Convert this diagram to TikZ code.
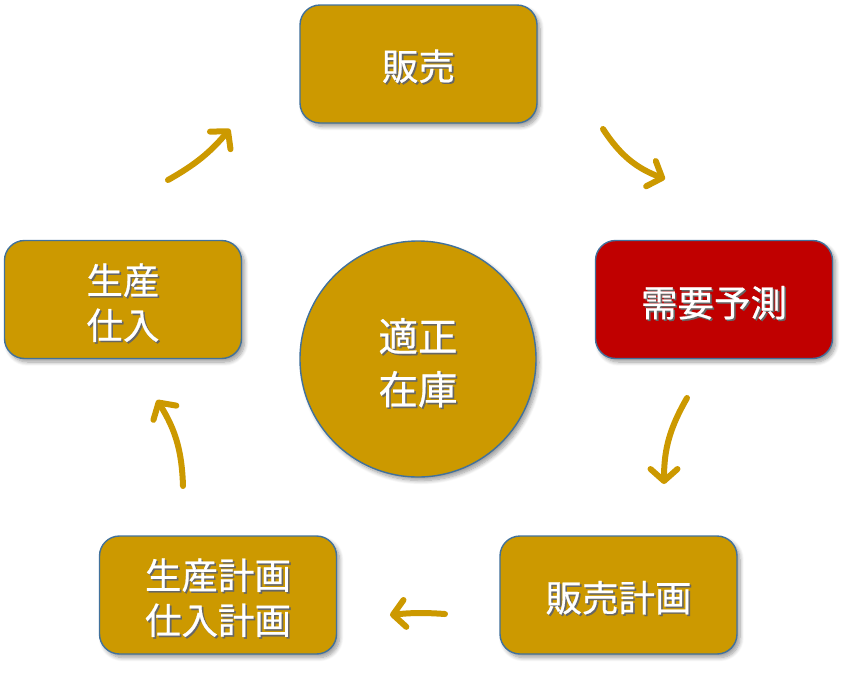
\documentclass[tikz,border=0pt]{standalone}
\usepackage{fontspec}
\setmainfont[FakeBold=0.6]{Noto Sans CJK JP}
\usetikzlibrary{arrows.meta,shadows.blur}
\definecolor{gold}{HTML}{CC9900}
\definecolor{redbox}{HTML}{C00000}
\definecolor{edgeblue}{HTML}{41719C}
\newcommand\sh[1]{\makebox[0pt][l]{\hspace{1.6pt}\raisebox{-1.6pt}{\color{black!60}#1}}#1}
\tikzset{
  x=1pt, y=-1pt,
  boxshape/.style={draw=edgeblue, line width=1.4pt, rounded corners=20pt, fill=gold,
    minimum width=237pt, minimum height=118pt, inner sep=0pt,
    blur shadow={shadow xshift=3pt, shadow yshift=-3.5pt, shadow blur radius=4pt, shadow blur steps=8, shadow opacity=40}},
  circshape/.style={circle, draw=edgeblue, line width=1.4pt, fill=gold, minimum size=236pt, inner sep=0pt,
    blur shadow={shadow xshift=3pt, shadow yshift=-3.5pt, shadow blur radius=4pt, shadow blur steps=8, shadow opacity=40}},
  lbl/.style={text=white, font=\fontsize{36.5}{45}\selectfont, align=center, inner sep=0pt},
  clbl/.style={text=white, font=\fontsize{39.5}{53}\selectfont, align=center, inner sep=0pt},
  cyc/.style={draw=gold, line width=6pt, line cap=round, -{Straight Barb[length=12pt,width=27pt,round]}},
}
\begin{document}
\begin{tikzpicture}
\useasboundingbox (0,0) rectangle (846,681);
% boxes
\node[boxshape] (hanbai) at (418.5,64) {};
\node[boxshape, fill=redbox] (juyo) at (714,299.5) {};
\node[boxshape] (hkeikaku) at (618.5,595) {};
\node[boxshape] (skeikaku) at (218,595) {};
\node[boxshape] (seisan) at (123,299.5) {};
\node[circshape] (zaiko) at (418,359) {};
% labels
\node[lbl] (t1) at ([yshift=-3pt]hanbai.center) {\sh{販売}};
\node[lbl] (t2) at ([yshift=-4pt]juyo.center) {\sh{需要予測}};
\node[lbl] (t3) at ([yshift=-3.5pt]hkeikaku.center) {\sh{販売計画}};
\node[lbl] (t4) at ([yshift=-3.5pt]skeikaku.center) {\sh{生産計画}\\\sh{仕入計画}};
\node[lbl] (t5) at ([yshift=-4pt]seisan.center) {\sh{生産}\\\sh{仕入}};
\node[clbl] (t6) at ([yshift=-4.5pt]zaiko.center) {\sh{適正}\\\sh{在庫}};
% cycle arrows
\coordinate (a1s) at (168,180); \coordinate (a1e) at (230,129);
\coordinate (a2s) at (603,129); \coordinate (a2e) at (665,179);
\coordinate (a3s) at (687,398); \coordinate (a3e) at (664,484);
\coordinate (a4s) at (445,614); \coordinate (a4e) at (390,615);
\coordinate (a5s) at (183,486); \coordinate (a5e) at (157,400);
\draw[cyc] (a1s) to[bend right=10] (a1e);
\draw[cyc] (a2s) to[bend right=18] (a2e);
\draw[cyc] (a3s) to[bend right=15] (a3e);
\draw[cyc] (a4s) to[bend right=5] (a4e);
\draw[cyc] (a5s) to[bend right=15] (a5e);
\end{tikzpicture}
\end{document}
